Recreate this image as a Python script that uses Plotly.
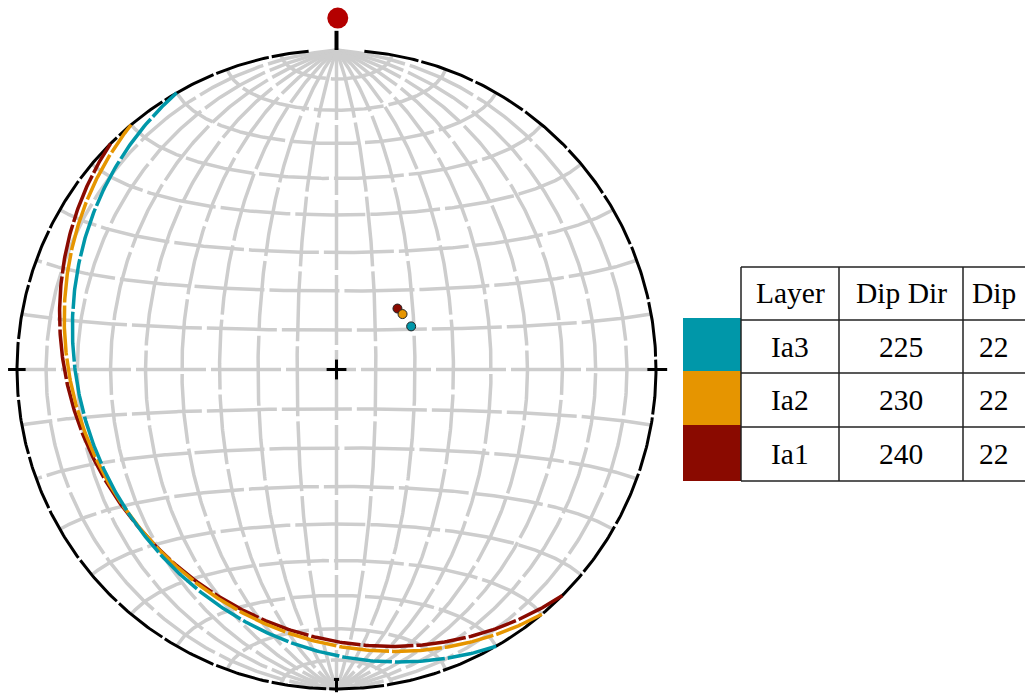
import numpy as np
import plotly.graph_objects as go

# ---- data ----
layers = ["Ia3", "Ia2", "Ia1"]
dip_dir = [225, 230, 240]
dip = [22, 22, 22]
swatch_colors = ["#0097A9", "#E69500", "#8A0A00"]
curve_colors = ["#8A0A00", "#E69500", "#0097A9"]  # one per plane, in dip_dir order
header = ["Layer", "Dip Dir", "Dip"]

# ---- page geometry (pixels) ----
W, H = 1025, 694
cx, cy, R = 336.5, 369.5, 319.5

x_range = [(0 - cx) / R, (W - cx) / R]
y_range = [(cy - H) / R, (cy - 0) / R]


def proj(e, n, d):
    """Lower-hemisphere equal-area (Schmidt) projection of unit vectors."""
    s = np.sqrt(1.0 + d)
    return e / s, n / s


# ---- Schmidt net: meridians through N/S and small circles about N-S axis ----
phi = np.linspace(0, np.pi, 361)
segs = []
for delta in range(10, 90, 10):
    dr = np.radians(delta)
    for sgn in (1, -1):
        e = np.sin(phi) * sgn * np.cos(dr)
        n = np.cos(phi)
        d = np.sin(phi) * np.sin(dr)
        segs.append(proj(e, n, d))
segs.append(proj(np.zeros_like(phi), np.cos(phi), np.sin(phi)))
for theta in range(10, 180, 10):
    tr = np.radians(theta)
    e = np.sin(tr) * np.cos(phi)
    n = np.full_like(phi, np.cos(tr))
    d = np.sin(tr) * np.sin(phi)
    segs.append(proj(e, n, d))

fig = go.Figure()
for sx, sy in segs:
    fig.add_trace(go.Scatter(x=sx, y=sy, mode="lines",
                             line=dict(color="#cdcdcd", width=3.5, dash="70px,5px"),
                             hoverinfo="skip", showlegend=False))

# ---- primitive circle ----
az = np.radians(np.linspace(5, 355, 700))
fig.add_trace(go.Scatter(x=np.sin(az), y=np.cos(az), mode="lines",
                         line=dict(color="black", width=3, dash="55px,3px"),
                         hoverinfo="skip", showlegend=False))

# ---- centre cross and E/W/S ticks ----
c = 0.031
tick_x = [-c, c, None, 0, 0, None, -1.028, -0.973, None, 0.973, 1.035, None, 0, 0, None, -0.008, 0.008]
tick_y = [0, 0, None, -c, c, None, 0, 0, None, 0, 0, None, -0.968, -1.01, None, -0.97, -0.97]
fig.add_trace(go.Scatter(x=tick_x, y=tick_y, mode="lines",
                         line=dict(color="black", width=3),
                         hoverinfo="skip", showlegend=False))

# ---- great circles of the planes ----
for dd, dp, col in zip(dip_dir, dip, curve_colors):
    ddr, dpr = np.radians(dd), np.radians(dp)
    sr = np.radians(dd - 90)
    S = np.array([np.sin(sr), np.cos(sr), 0.0])
    D = np.array([np.sin(ddr) * np.cos(dpr), np.cos(ddr) * np.cos(dpr), np.sin(dpr)])
    v = np.outer(np.cos(phi), S) + np.outer(np.sin(phi), D)
    gx, gy = proj(v[:, 0], v[:, 1], v[:, 2])
    fig.add_trace(go.Scatter(x=gx, y=gy, mode="lines",
                             line=dict(color=col, width=3.5, dash="50px,3px"),
                             hoverinfo="skip", showlegend=False))

# ---- poles of the planes ----
for dd, dp, col in zip(dip_dir, dip, curve_colors):
    t, p = np.radians(dd + 180), np.radians(90 - dp)
    px_, py_ = proj(np.sin(t) * np.cos(p), np.cos(t) * np.cos(p), np.sin(p))
    fig.add_trace(go.Scatter(x=[px_], y=[py_], mode="markers",
                             marker=dict(color=col, size=9, symbol="circle",
                                         line=dict(color="#222", width=1)),
                             hoverinfo="skip", showlegend=False))

# ---- north pin ----
fig.add_trace(go.Scatter(x=[0, 0], y=[1.0, 1.06], mode="lines",
                         line=dict(color="black", width=4),
                         hoverinfo="skip", showlegend=False))
fig.add_trace(go.Scatter(x=[0.004], y=[1.10], mode="markers",
                         marker=dict(color="#B40000", size=21),
                         hoverinfo="skip", showlegend=False))

# ---- table ----
col_edges = [741, 839, 963, W]
row_edges = [267, 320, 373, 427, 481]
swatch_x = [683, 741]


def px(x):
    return x / W


def py(y):
    return 1 - y / H


shapes = []
for i, col in enumerate(swatch_colors):
    shapes.append(dict(type="rect", xref="paper", yref="paper",
                       x0=px(swatch_x[0]), x1=px(swatch_x[1]),
                       y0=py(row_edges[i + 1] - 2), y1=py(row_edges[i + 2]),
                       fillcolor=col, line=dict(width=0), layer="above"))
for y in row_edges:
    shapes.append(dict(type="line", xref="paper", yref="paper",
                       x0=px(col_edges[0]), x1=px(W), y0=py(y), y1=py(y),
                       line=dict(color="#222", width=1.5)))
for x in col_edges[:-1]:
    shapes.append(dict(type="line", xref="paper", yref="paper",
                       x0=px(x), x1=px(x), y0=py(row_edges[0]), y1=py(row_edges[-1]),
                       line=dict(color="#222", width=1.5)))

col_centers = [790, 901, 994]
font = dict(family="Liberation Serif", size=29.5, color="black")
annotations = []
for j, h in enumerate(header):
    annotations.append(dict(x=px(col_centers[j]), y=py((row_edges[0] + row_edges[1]) / 2),
                            xref="paper", yref="paper", text=h, showarrow=False,
                            xanchor="center", yanchor="middle", font=font))
for i in range(len(layers)):
    yc = py((row_edges[i + 1] + row_edges[i + 2]) / 2)
    for j, val in enumerate([layers[i], str(dip_dir[i]), str(dip[i])]):
        annotations.append(dict(x=px(col_centers[j]), y=yc, xref="paper", yref="paper",
                                text=val, showarrow=False, xanchor="center",
                                yanchor="middle", font=font))

fig.update_layout(
    width=W, height=H,
    margin=dict(l=0, r=0, t=0, b=0),
    paper_bgcolor="white", plot_bgcolor="white",
    xaxis=dict(range=x_range, visible=False, fixedrange=True),
    yaxis=dict(range=y_range, visible=False, fixedrange=True),
    shapes=shapes, annotations=annotations,
    showlegend=False,
)

fig.write_html("out.html")
